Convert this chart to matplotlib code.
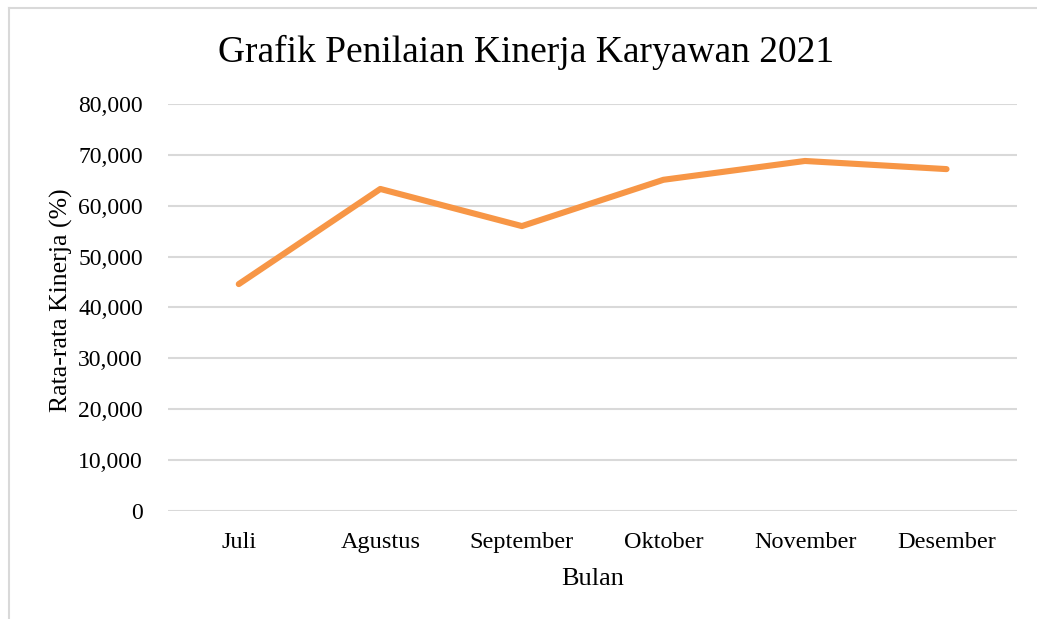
import matplotlib.pyplot as plt
from matplotlib.lines import Line2D
from matplotlib.ticker import FuncFormatter

# data
bulan = ["Juli", "Agustus", "September", "Oktober", "November", "Desember"]
kinerja = [44.6, 63.3, 56.0, 65.1, 68.8, 67.2]  # dalam ribuan
yticks = [0, 10, 20, 30, 40, 50, 60, 70, 80]

plt.rcParams['font.family'] = ['Liberation Serif', 'DejaVu Serif']

fig = plt.figure(figsize=(10.37, 6.19), dpi=100)
ax = fig.add_axes([0.162, 0.1745, 0.819, 0.6575])

x = range(len(bulan))
ax.plot(x, [v * 1000 for v in kinerja], color='#F79646', lw=4.4,
        solid_capstyle='round', solid_joinstyle='round', zorder=3)

ax.set_xlim(-0.5, len(bulan) - 0.5)
ax.set_ylim(0, 80000)
ax.set_yticks([v * 1000 for v in yticks])
ax.yaxis.set_major_formatter(FuncFormatter(lambda v, p: f"{v:,.0f}"))
ax.set_xticks(list(x))
ax.set_xticklabels(bulan)
ax.tick_params(axis='y', length=0, labelsize=17, colors='black', pad=18)
ax.tick_params(axis='x', length=0, labelsize=17.5, colors='black', pad=15)

ax.grid(axis='y', color='#d9d9d9', lw=1.5, zorder=0)
ax.set_axisbelow(True)
for s in ax.spines.values():
    s.set_visible(False)

ax.set_xlabel("Bulan", fontsize=19, labelpad=11)
ax.set_ylabel("Rata-rata Kinerja (%)", fontsize=18.5, labelpad=4)
ax.yaxis.label.set_y(0.518)
fig.text(0.507, 0.915, "Grafik Penilaian Kinerja Karyawan 2021",
         ha='center', va='center', fontsize=27)

# bingkai grafik
fig.add_artist(Line2D([8.5 / 1037, 8.5 / 1037], [0, 1 - 7.5 / 619],
                      color='#d9d9d9', lw=1.5, transform=fig.transFigure))
fig.add_artist(Line2D([8.5 / 1037, 1], [1 - 7.5 / 619, 1 - 7.5 / 619],
                      color='#d9d9d9', lw=1.5, transform=fig.transFigure))

plt.savefig("out.png", dpi=100)
plt.close()
